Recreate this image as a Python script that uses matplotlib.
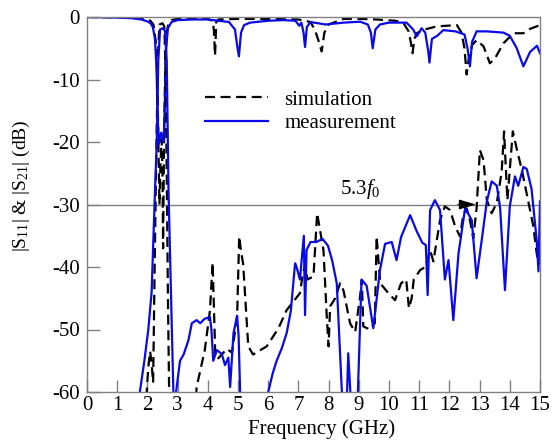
import matplotlib
matplotlib.use("Agg")
import matplotlib.pyplot as plt

plt.rcParams['font.family'] = ['Liberation Serif', 'DejaVu Serif']
plt.rcParams['mathtext.fontset'] = 'custom'
plt.rcParams['mathtext.rm'] = 'Liberation Serif'
plt.rcParams['mathtext.it'] = 'Liberation Serif:italic'
plt.rcParams['axes.unicode_minus'] = False

# ---- data (GHz, dB) ----
meas_s11_f = [0, 0.5, 1.0, 1.5, 1.8, 2.0, 2.1, 2.18, 2.25, 2.3, 2.34, 2.38, 2.42, 2.46, 2.5, 2.54, 2.58,
              2.62, 2.68, 2.8, 3.0, 3.5, 4.0, 4.35, 4.7, 4.9, 4.97, 5.03, 5.1, 5.2, 5.4, 6.0, 6.5, 6.9,
              7.03, 7.1, 7.17, 7.22, 7.28, 7.4, 7.9, 8.5, 9.04, 9.3, 9.4, 9.46, 9.55, 9.7, 10.0, 10.58,
              10.8, 10.92, 11.08, 11.2, 11.3, 11.34, 11.42, 11.6, 11.8, 12.2, 12.5, 12.6, 12.68, 12.75,
              12.9, 13.24, 13.79, 14.0, 14.23, 14.45, 14.67, 14.9, 15.0]
meas_s11_db = [0, -0.05, -0.1, -0.2, -0.4, -0.7, -1.0, -1.6, -3.5, -8, -16, -20.3, -19, -18.5, -19.5, -20,
               -13, -5, -1.8, -0.8, -0.5, -0.4, -0.4, -0.6, -0.8, -2, -4.5, -6.3, -2.5, -1.3, -0.9, -0.6,
               -0.5, -0.6, -1.4, -0.9, -2.5, -4.8, -1.6, -0.8, -1.2, -0.9, -0.75, -1.2, -2.5, -5.0, -2,
               -1.2, -0.9, -0.9, -2, -3.1, -1.8, -2.5, -5.5, -7.3, -3.5, -3.0, -2.1, -2.3, -2.8, -5, -7.9,
               -4, -2.3, -2.3, -2.5, -3.0, -5.0, -7.9, -5.6, -4.6, -5.8]

sim_s11_f = [0, 1.0, 1.8, 2.0, 2.1, 2.2, 2.28, 2.33, 2.37, 2.4, 2.43, 2.47, 2.5, 2.52, 2.55, 2.59, 2.64,
             2.7, 2.8, 3.0, 3.5, 4.0, 4.15, 4.2, 4.24, 4.28, 4.35, 5.0, 6.0, 7.0, 7.4, 7.55, 7.68, 7.77,
             7.86, 8.0, 8.5, 9.0, 9.6, 10.2, 10.47, 10.65, 10.72, 10.78, 10.84, 10.92, 11.1, 11.58, 12.25,
             12.4, 12.5, 12.57, 12.63, 12.75, 12.9, 13.13, 13.34, 13.5, 13.79, 14.12, 14.45, 14.67, 15.0]
sim_s11_db = [0, -0.05, -0.2, -0.4, -0.6, -1.2, -4, -10, -22, -30, -24, -19.5, -25, -37, -20, -8, -2.5,
              -1, -0.5, -0.3, -0.2, -0.3, -0.6, -2, -6.2, -0.8, -0.4, -0.3, -0.3, -0.4, -0.8, -2.1, -4,
              -5.5, -2.5, -1.2, -0.3, -0.3, -0.4, -0.6, -0.9, -2.3, -4, -5.8, -3.5, -2.6, -2.1, -1.5,
              -1.3, -2.5, -5, -9.2, -7, -4.5, -3.7, -4.7, -7.4, -6.7, -4.2, -2.6, -2.6, -1.9, -1.3]

meas_s21_f = [1.5, 1.75, 1.9, 2.03, 2.14, 2.25, 2.31, 2.36, 2.42, 2.5, 2.58, 2.64, 2.7, 2.78, 2.86, 2.9,
              2.95, 3.08, 3.2, 3.36, 3.47, 3.63, 3.75, 3.89, 4.07, 4.12, 4.18, 4.3, 4.46, 4.57, 4.68, 4.74,
              4.85, 4.97, 5.02, 5.07, 5.12, 5.5, 5.95, 6.0, 6.15, 6.28, 6.45, 6.61, 6.75, 6.89, 6.94,
              7.05, 7.18, 7.22, 7.27, 7.4, 7.6, 7.8, 7.98, 8.12, 8.27, 8.43, 8.5, 8.6, 8.65, 8.72, 8.8,
              8.97, 9.09, 9.26, 9.48, 9.7, 9.87, 10.09, 10.25, 10.4, 10.7, 10.92, 11.1, 11.22, 11.28,
              11.36, 11.52, 11.69, 11.85, 11.97, 12.13, 12.3, 12.52, 12.74, 12.9, 13.07, 13.24, 13.4,
              13.57, 13.68, 13.84, 14.0, 14.17, 14.28, 14.45, 14.56, 14.72, 14.89, 14.95, 15.0]
meas_s21_db = [-70, -60, -55, -50, -44, -28, -20, -7, -2, -1.8, -2.2, -7, -28, -44, -60, -65, -60, -55,
               -54, -51.7, -49, -48.5, -49, -48.3, -48, -50, -55, -53.3, -53.9, -55.7, -54.5, -59.2,
               -50.6, -47.8, -51, -60, -68, -70, -65, -60, -57, -55, -53, -50.6, -47, -39.4, -40, -42,
               -35, -47.7, -37.3, -36, -36, -35.5, -36.6, -39, -42.6, -59, -65, -62, -53.8, -60, -65,
               -60, -42, -43, -49.8, -40.5, -36.3, -36, -38.9, -35.2, -31.7, -34.3, -36.1, -36.5, -44.5,
               -30.9, -29.3, -30.9, -42, -38.9, -48.5, -37.9, -30.6, -32.5, -41.8, -35.7, -29.5, -26.3,
               -27, -30.6, -43.7, -30.3, -25.5, -27, -24, -24.3, -27.5, -35.7, -40.7, -29.5]

sim_s21_f = [1.8, 1.95, 2.03, 2.09, 2.14, 2.19, 2.24, 2.3, 2.35, 2.4, 2.5, 2.56, 2.6, 2.64, 2.68, 2.72,
             2.78, 3.5, 3.63, 3.9, 4.07, 4.16, 4.25, 4.35, 4.63, 4.8, 4.97, 5.04, 5.1, 5.17, 5.34, 5.5,
             5.95, 6.34, 6.61, 7.05, 7.15, 7.22, 7.3, 7.5, 7.62, 7.83, 7.94, 8.0, 8.05, 8.22, 8.38, 8.49,
             8.71, 8.88, 9.04, 9.1, 9.15, 9.36, 9.53, 9.59, 9.71, 9.98, 10.2, 10.4, 10.57, 10.66, 10.75,
             10.82, 11.03, 11.2, 11.3, 11.36, 11.47, 11.69, 11.85, 12.02, 12.19, 12.35, 12.46, 12.57,
             12.68, 12.79, 12.9, 13.01, 13.13, 13.24, 13.4, 13.57, 13.73, 13.81, 13.92, 14.1, 14.24,
             14.4, 14.62, 14.78, 14.89, 14.95, 15.0]
sim_s21_db = [-70, -62, -56, -53.5, -55.5, -58.5, -40, -20, -6, -1.2, -1.0, -1.5, -8, -25, -45, -60,
              -70, -70, -59.2, -53.3, -47, -39.3, -54.5, -54.6, -53.1, -53.7, -48, -35.1, -37.5, -39.5,
              -52.7, -54, -52.7, -49.8, -46.9, -44.2, -41, -39.7, -42, -41.5, -31.4, -37.3, -48, -52.7,
              -46.3, -45, -42.6, -43.7, -49, -50.4, -44.8, -42.1, -49.5, -50, -49, -35.1, -42.6, -44.2,
              -45.3, -42.6, -42, -46.6, -45, -42, -40.5, -40, -38.4, -37.3, -39.1, -32.5, -30.3, -30.9,
              -33.5, -35.1, -31.7, -30.6, -32.5, -35.4, -30.6, -21.3, -22.9, -29.3, -31.4, -29.7, -24.8,
              -18.3, -29.3, -18.3, -21.3, -24.5, -29.7, -33.5, -37.8, -39.5, -36.3]

legend_labels = ["simulation", "measurement"]
x_ticks = list(range(0, 16))
y_ticks = [0, -10, -20, -30, -40, -50, -60]
limit_level = -30
limit_freq = 12.88
limit_label = r"5.3$f_\mathregular{0}$"

# ---- figure ----
fs = 15
fig = plt.figure(figsize=(5.52, 4.43), dpi=100)
ax = fig.add_axes([87/552, 51/443, 453/552, 375/443])

blue = '#0a0ae6'
grey = '#808080'
lw = 1.6
ax.plot(sim_s11_f, sim_s11_db, color='black', lw=lw, dashes=(4.5, 2.5), label=legend_labels[0])
ax.plot(meas_s11_f, meas_s11_db, color=blue, lw=lw, label=legend_labels[1])
ax.plot(sim_s21_f, sim_s21_db, color='black', lw=lw, dashes=(4.5, 2.5))
ax.plot(meas_s21_f, meas_s21_db, color=blue, lw=lw)

ax.axhline(limit_level, color=grey, lw=1.0, zorder=1)
ax.annotate('', xy=(limit_freq, limit_level), xytext=(limit_freq - 0.6, limit_level),
            arrowprops=dict(arrowstyle='-|>,head_length=0.75,head_width=0.22', color='black',
                            lw=0.8, mutation_scale=14, shrinkA=0, shrinkB=0))
ax.text(9.05, -28.3, limit_label, fontsize=fs, ha='center', va='baseline')

ax.set_xlim(0, 15)
ax.set_ylim(-60, 0)
ax.set_xticks(x_ticks)
ax.set_yticks(y_ticks)
ax.tick_params(direction='in', length=9, width=1, color=grey, labelsize=fs, pad=3)
ax.tick_params(axis='y', pad=5)
for s in ax.spines.values():
    s.set_color(grey)
    s.set_linewidth(1.0)

ax.set_xlabel('Frequency (GHz)', fontsize=fs)
ax.set_ylabel(r'|S$_\mathregular{11}$| & |S$_\mathregular{21}$| (dB)', fontsize=14)
ax.xaxis.set_label_coords((322 - 87) / 453, -(419 - 392) / 375)
ax.yaxis.set_label_coords(-(87 - 32) / 453, 0.55)

leg = ax.legend(loc='upper left', bbox_to_anchor=((205 - 87) / 453, 1 - (90 - 17) / 375),
                frameon=False, fontsize=fs, handlelength=3.0, handletextpad=0.8,
                borderpad=0, borderaxespad=0, labelspacing=0.2)

fig.savefig('out.png', dpi=100)
